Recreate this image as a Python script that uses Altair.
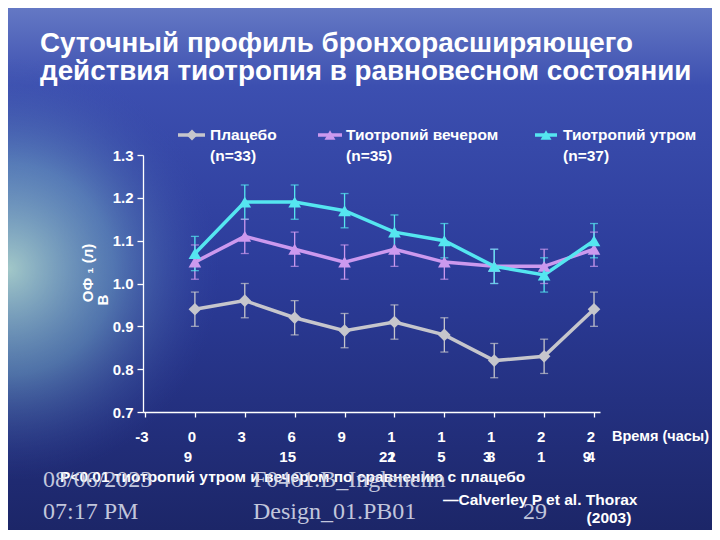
import altair as alt
import pandas as pd

# ---------------- data ----------------
hours = [0, 3, 6, 9, 12, 15, 18, 21, 24]
placebo = [0.94, 0.96, 0.92, 0.89, 0.91, 0.88, 0.82, 0.83, 0.94]
evening = [1.05, 1.11, 1.08, 1.05, 1.08, 1.05, 1.04, 1.04, 1.08]
morning = [1.07, 1.19, 1.19, 1.17, 1.12, 1.10, 1.04, 1.02, 1.10]
placebo_err = [0.04, 0.04, 0.04, 0.04, 0.04, 0.04, 0.04, 0.04, 0.04]
evening_err = [0.04, 0.04, 0.04, 0.04, 0.04, 0.04, 0.04, 0.04, 0.04]
morning_err = [0.04, 0.04, 0.04, 0.04, 0.04, 0.04, 0.04, 0.04, 0.04]

series_names = ["Плацебо", "Тиотропий вечером", "Тиотропий утром"]
series_n = ["(n=33)", "(n=35)", "(n=37)"]
series_colors = ["#c6c6cc", "#cc99ee", "#55e6f0"]
series_shapes = ["diamond", "triangle-up", "triangle-up"]

y_ticks = [0.7, 0.8, 0.9, 1.0, 1.1, 1.2, 1.3]
x_ticks = [-3, 0, 3, 6, 9, 12, 15, 18, 21, 24]
x_row1 = ["-3", "0", "3", "6", "9", "1", "1", "1", "2", "2"]
x_row2_pos = [12, 15, 18, 21, 24]
x_row2 = ["2", "5", "8", "1", "4"]
clock_pos = [0, 6, 12, 18, 24]
clock_labels = ["9", "15", "21", "3", "9"]

title_lines = ["Суточный профиль бронхорасширяющего",
               "действия тиотропия в равновесном состоянии"]

# ---------------- layout ----------------
W, H = 457, 257
PAD = {"left": 135, "top": 147, "right": 112, "bottom": 118}
FONT = "Liberation Sans"
SERIF = "Liberation Serif"

rows = []
for name, vals, errs in zip(series_names, [placebo, evening, morning],
                            [placebo_err, evening_err, morning_err]):
    for h, v, e in zip(hours, vals, errs):
        rows.append({"series": name, "hour": h, "value": v,
                     "lo": v - e, "hi": v + e})
df = pd.DataFrame(rows)

xscale = alt.Scale(domain=[-3.12, 24.36], nice=False, zero=False)
yscale = alt.Scale(domain=[0.7, 1.3], nice=False, zero=False)
cscale = alt.Scale(domain=series_names, range=series_colors)
sscale = alt.Scale(domain=series_names, range=series_shapes)

one = pd.DataFrame({"a": [0]})

# background
bg = alt.Chart(one).mark_rect(
    fill=alt.LinearGradient(
        gradient="linear", x1=0, y1=0, x2=0, y2=1,
        stops=[alt.GradientStop(color="#6478c4", offset=0),
               alt.GradientStop(color="#3c4fb0", offset=0.15),
               alt.GradientStop(color="#2c3c9a", offset=0.5),
               alt.GradientStop(color="#1c2668", offset=1)])
).encode(x=alt.value(-PAD["left"]), x2=alt.value(W + PAD["right"]),
         y=alt.value(-PAD["top"]), y2=alt.value(H + PAD["bottom"]))

glow = alt.Chart(one).mark_rect(
    fill=alt.RadialGradient(
        gradient="radial", x1=0.0, y1=0.5, x2=0.0, y2=0.5, r1=0, r2=0.3,
        stops=[alt.GradientStop(color="rgba(175,215,205,0.9)", offset=0),
               alt.GradientStop(color="rgba(120,175,200,0.5)", offset=0.5),
               alt.GradientStop(color="rgba(60,80,170,0)", offset=1)])
).encode(x=alt.value(-PAD["left"]), x2=alt.value(W + PAD["right"]),
         y=alt.value(-PAD["top"]), y2=alt.value(H + PAD["bottom"]))

base = alt.Chart(df)
X = alt.X("hour:Q", scale=xscale,
          axis=alt.Axis(values=x_ticks, labels=False, title=None,
                        domainColor="white", tickColor="white", tickSize=5,
                        grid=False, domainWidth=1.3, tickWidth=1.3, zindex=1))
Y = alt.Y("value:Q", scale=yscale,
          axis=alt.Axis(values=y_ticks, format=".1f", title=None,
                        domainColor="white", tickColor="white", tickSize=6,
                        labelColor="white", labelFont=FONT, labelFontSize=15,
                        labelFontWeight="bold", labelPadding=4, grid=False,
                        domainWidth=1.3, tickWidth=1.3, zindex=1))
C = alt.Color("series:N", scale=cscale, legend=None)

rules = base.mark_rule(strokeWidth=1.3).encode(
    x=alt.X("hour:Q", scale=xscale), y=alt.Y("lo:Q", scale=yscale), y2="hi:Q", color=C)
caps_lo = base.mark_tick(orient="horizontal", size=8, thickness=1.3).encode(
    x=alt.X("hour:Q", scale=xscale), y=alt.Y("lo:Q", scale=yscale), color=C)
caps_hi = base.mark_tick(orient="horizontal", size=8, thickness=1.3).encode(
    x=alt.X("hour:Q", scale=xscale), y=alt.Y("hi:Q", scale=yscale), color=C)
lines = base.mark_line(strokeWidth=3.5).encode(x=X, y=Y, color=C, detail="series:N")
points = base.mark_point(filled=True, size=160, opacity=1).encode(
    x=alt.X("hour:Q", scale=xscale), y=alt.Y("value:Q", scale=yscale), color=C,
    shape=alt.Shape("series:N", scale=sscale, legend=None))

# x tick labels
XFS = 15
xl1 = alt.Chart(pd.DataFrame({"pos": x_ticks, "lab": x_row1})).mark_text(
    font=FONT, fontSize=XFS, fontWeight="bold", color="white", dx=-3, baseline="middle"
).encode(x=alt.X("pos:Q", scale=xscale), y=alt.value(H + 25), text="lab:N")
xl2 = alt.Chart(pd.DataFrame({"pos": x_row2_pos, "lab": x_row2})).mark_text(
    font=FONT, fontSize=XFS, fontWeight="bold", color="white", dx=-3, baseline="middle"
).encode(x=alt.X("pos:Q", scale=xscale), y=alt.value(H + 45), text="lab:N")
xl3 = alt.Chart(pd.DataFrame({"pos": clock_pos, "lab": clock_labels})).mark_text(
    font=FONT, fontSize=XFS, fontWeight="bold", color="white", dx=-7, baseline="middle"
).encode(x=alt.X("pos:Q", scale=xscale), y=alt.value(H + 45), text="lab:N")


def txt(text, x, y, size=15, color="white", font=FONT, weight="bold",
        align="left", baseline="middle", angle=0, opacity=1.0):
    return alt.Chart(one).mark_text(
        text=text, font=font, fontSize=size, fontWeight=weight, color=color,
        align=align, baseline=baseline, angle=angle, opacity=opacity
    ).encode(x=alt.value(x), y=alt.value(y))


SER = dict(font=SERIF, weight="normal", color="#d4d8e8", opacity=0.9, size=24)
texts = [
    txt(title_lines[0], -103, -103, size=27.8, baseline="alphabetic"),
    txt(title_lines[1], -103, -75, size=27.8, baseline="alphabetic"),
    txt("ОФ ₁ (л)", -55, 118, size=15, align="center", angle=270),
    txt("В", -40, 145, size=15, align="center", angle=270),
    txt("Время (часы)", 469, H + 25, size=14.5),
    txt("P<0.01 тиотропий утром и вечером по сравнению с плацебо", -83, 322, size=15.5),
    txt("08/06/2023", -100, 325, **SER),
    txt("07:17 PM", -100, 357, **SER),
    txt("F0461.B_Inglenelm", 110, 325, **SER),
    txt("Design_01.PB01", 110, 357, **SER),
    txt("29", 380, 357, **SER),
    txt("\u2014Calverley P et al. Thorax", 300, 345, size=15.5),
    txt("(2003)", 466, 363, size=15.5, align="center"),
]

# legend
leg_line_x = [(35, 62), (175, 199), (392, 414)]
leg_sym_x = [49, 187, 403]
leg_txt_x = [67, 203, 420]
legend_layers = []
for i in range(3):
    legend_layers.append(alt.Chart(one).mark_rule(color=series_colors[i], strokeWidth=3.5).encode(
        x=alt.value(leg_line_x[i][0]), x2=alt.value(leg_line_x[i][1]), y=alt.value(-20)))
    legend_layers.append(alt.Chart(one).mark_point(
        filled=True, opacity=1, size=120, shape=series_shapes[i], color=series_colors[i]
    ).encode(x=alt.value(leg_sym_x[i]), y=alt.value(-20)))
    legend_layers.append(txt(series_names[i], leg_txt_x[i], -20, size=15.5))
    legend_layers.append(txt(series_n[i], leg_txt_x[i], 1, size=15.5))

chart = alt.layer(
    bg, glow, rules, caps_lo, caps_hi, lines, points, xl1, xl2, xl3,
    *texts, *legend_layers
).properties(
    width=W, height=H, padding=PAD, autosize="none", background="#2c3c9a"
).configure_view(stroke=None)

chart.save("out.html", embed_options={"renderer": "svg", "actions": False})
